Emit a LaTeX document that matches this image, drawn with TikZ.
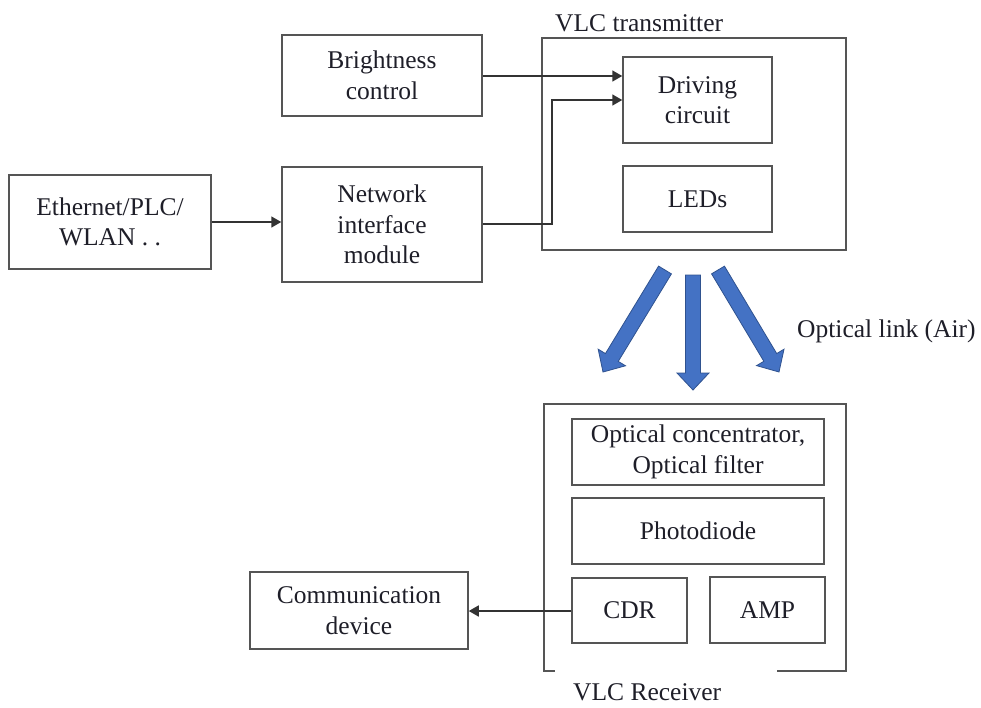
\documentclass[tikz,border=0pt]{standalone}
\usepackage{fontspec}
\setmainfont{Liberation Serif}
\usetikzlibrary{arrows.meta,calc}
\definecolor{boxgray}{HTML}{555555}
\definecolor{linedark}{HTML}{333333}
\definecolor{arrowfill}{HTML}{4472C4}
\definecolor{arrowedge}{HTML}{2F528F}
\definecolor{txt}{HTML}{1E1E28}
\newcommand\blockarrow[2]{%
  \coordinate (ba-h) at ($(#2)!17pt!(#1)$);
  \filldraw[fill=arrowfill, draw=arrowedge, line width=0.8pt, line join=miter]
    ($(#1)!7.5pt!90:(#2)$) -- ($(ba-h)!7.5pt!90:(#2)$) -- ($(ba-h)!16pt!90:(#2)$) -- (#2)
    -- ($(ba-h)!16pt!-90:(#2)$) -- ($(ba-h)!7.5pt!-90:(#2)$) -- ($(#1)!7.5pt!-90:(#2)$) -- cycle;}
\tikzset{
  txtfont/.style={font=\fontsize{25.5}{30.5}\selectfont, text=txt},
  box/.style={draw=boxgray, line width=1.5pt, inner sep=0pt, align=center, txtfont},
  lbl/.style={inner sep=0pt, txtfont},
  conn/.style={draw=linedark, line width=1.6pt, -{Triangle[length=10pt,width=11pt]}},
}
\begin{document}
\begin{tikzpicture}[x=1pt,y=-1pt]
\useasboundingbox (0,0) rectangle (981,707);
% transmitter
\node[box, minimum width=304pt, minimum height=212pt] (tx) at (694,144) {};
\node[lbl, anchor=base west] (txlbl) at (555,31) {VLC transmitter};
\node[box, minimum width=149pt, minimum height=86pt] (drive) at (697.5,100) {Driving\\circuit};
\node[box, minimum width=149pt, minimum height=66pt] (leds) at (697.5,199) {LEDs};
% left blocks
\node[box, minimum width=200pt, minimum height=81pt] (bright) at (382,75.5) {Brightness\\control};
\node[box, minimum width=200pt, minimum height=115pt] (net) at (382,224.5) {Network\\interface\\module};
\node[box, minimum width=202pt, minimum height=94pt] (eth) at (110,222) {Ethernet/PLC/\\WLAN . .};
% connectors top
\coordinate (bo) at ($(bright.east)+(0,0.5)$);
\draw[conn] (bo) -- (bo -| drive.west);
\draw[conn] (eth.east) -- (eth.east -| net.west);
\coordinate (bend) at (552,0);
\coordinate (no) at ($(net.east)+(0,-0.5)$);
\draw[conn] (no) -- (no -| bend) -- (drive.west -| bend) -- (drive.west);
% optical link arrows
\coordinate (la1) at (665,270); \coordinate (la2) at (603,372);
\coordinate (ma1) at (693,275); \coordinate (ma2) at (693,390);
\coordinate (ra1) at (718,270); \coordinate (ra2) at (779,372);
\blockarrow{la1}{la2}
\blockarrow{ma1}{ma2}
\blockarrow{ra1}{ra2}
\node[lbl, anchor=base west] (optlbl) at (797,337) {Optical link (Air)};
% receiver
\node[minimum width=302pt, minimum height=267pt, inner sep=0pt] (rx) at (695,537.5) {};
\draw[draw=boxgray, line width=1.5pt] ($(rx.south west)+(11,0)$) -- (rx.south west) -- (rx.north west) -- (rx.north east) -- (rx.south east) -- ($(rx.south east)+(-69,0)$);
\node[lbl, anchor=base west] (rxlbl) at (573,700) {VLC Receiver};
\node[box, minimum width=252pt, minimum height=66pt] (conc) at (698,452) {Optical concentrator,\\Optical filter};
\node[box, minimum width=252pt, minimum height=66pt] (pd) at (698,531) {Photodiode};
\node[box, minimum width=115pt, minimum height=65pt] (cdr) at (629.5,610.5) {CDR};
\node[box, minimum width=115pt, minimum height=66pt] (amp) at (767.5,610) {AMP};
\node[box, minimum width=218pt, minimum height=77pt] (comm) at (359,610.5) {Communication\\device};
\coordinate (co) at ($(cdr.west)+(0,0.5)$);
\draw[conn] (co) -- (co -| comm.east);
\end{tikzpicture}
\end{document}
